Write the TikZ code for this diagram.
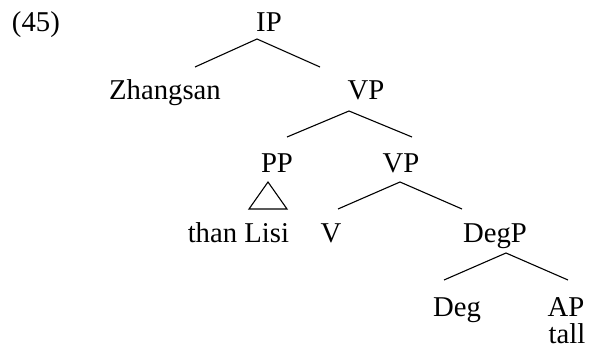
\documentclass[tikz,border=0pt]{standalone}
\usepackage{fontspec}
\setmainfont{Liberation Serif}
\begin{document}
\begin{tikzpicture}[x=1pt,y=-1pt,
  lbl/.style={anchor=base,inner sep=0pt,outer sep=0pt,font=\fontsize{28.7}{34}\selectfont},
  branch/.style={line width=1.1pt,line join=miter},
  roof/.style={line width=1.1pt,line join=miter}]
\useasboundingbox (0,0) rectangle (589,350);
% labels
\node[lbl,anchor=base west] (ex) at (12,32) {(45)};
\node[lbl] (IP) at (269,32) {IP};
\node[lbl] (Zh) at (165,100) {Zhangsan};
\node[lbl] (VP1) at (366,100) {VP};
\node[lbl] (PP) at (277,172) {PP};
\node[lbl] (VP2) at (401,172) {VP};
\node[lbl,anchor=base east] (than) at (289,242) {than Lisi};
\node[lbl] (V) at (331,242) {V};
\node[lbl] (DegP) at (495,242) {DegP};
\node[lbl] (Deg) at (457,316) {Deg};
\node[lbl] (AP) at (566,316) {AP};
\node[lbl] (tall) at (567,343) {tall};
% branch points
\coordinate (IPa) at (257,39);
\coordinate (IPl) at (195,67);
\coordinate (IPr) at (320,67);
\coordinate (VP1a) at (349,111);
\coordinate (VP1l) at (287,137);
\coordinate (VP1r) at (412,137);
\coordinate (VP2a) at (400,182);
\coordinate (VP2l) at (338,209);
\coordinate (VP2r) at (462,209);
\coordinate (DPa) at (506,253);
\coordinate (DPl) at (444,280);
\coordinate (DPr) at (568,280);
\coordinate (PPa) at (268,182);
\coordinate (PPl) at (249,209);
\coordinate (PPr) at (287,209);
% connectors
\draw[branch] (IPl) -- (IPa) -- (IPr);
\draw[branch] (VP1l) -- (VP1a) -- (VP1r);
\draw[branch] (VP2l) -- (VP2a) -- (VP2r);
\draw[branch] (DPl) -- (DPa) -- (DPr);
\draw[roof] (PPa) -- (PPl) -- (PPr) -- cycle;
\end{tikzpicture}
\end{document}
